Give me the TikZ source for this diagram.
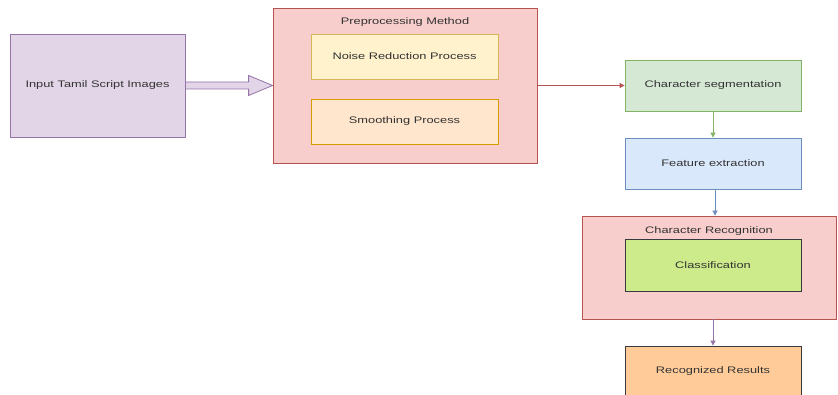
\documentclass[tikz,border=0pt]{standalone}
\usepackage{fontspec}
\setmainfont{Liberation Sans}[FakeStretch=1.35]
\usepackage{xcolor}
\usetikzlibrary{arrows.meta,calc}

\definecolor{txtgray}{HTML}{333333}
\definecolor{purplefill}{HTML}{E1D5E7}
\definecolor{purpleline}{HTML}{9673A6}
\definecolor{redfill}{HTML}{F8CECC}
\definecolor{redline}{HTML}{B85450}
\definecolor{yellowfill}{HTML}{FFF2CC}
\definecolor{yellowline}{HTML}{D6B656}
\definecolor{orangefill}{HTML}{FFE6CC}
\definecolor{orangeline}{HTML}{D79B00}
\definecolor{greenfill}{HTML}{D5E8D4}
\definecolor{greenline}{HTML}{82B366}
\definecolor{bluefill}{HTML}{DAE8FC}
\definecolor{blueline}{HTML}{6C8EBF}
\definecolor{limefill}{HTML}{CDEB8B}
\definecolor{peachfill}{HTML}{FFCC99}
\definecolor{darkline}{HTML}{36393D}

\begin{document}
\begin{tikzpicture}[
    x=1pt, y=-1pt,
    box/.style={draw, line width=0.8pt, inner sep=0pt, align=center, text=txtgray,
      font=\fontsize{9.5}{11}\selectfont, minimum width=176pt, minimum height=51pt},
    title/.style={text=txtgray, inner sep=0pt, font=\fontsize{9.5}{11}\selectfont},
    arrow/.style={-{Triangle[length=5pt, width=5pt]}, line width=0.8pt},
    flexarrow/.style={draw=purpleline, fill=purplefill, line width=0.8pt, line join=miter}
  ]
    \useasboundingbox[fill=white] (0,0) rectangle (838,395);

    \node[box, fill=purplefill, draw=purpleline, minimum width=175pt, minimum height=103pt] (inp) at (97.5,85.5) {Input Tamil Script Images};

    \node[box, fill=redfill, draw=redline, minimum width=264pt, minimum height=155pt] (pre) at (405,85.5) {};
    \node[title] (pretitle) at (405,22) {Preprocessing Method};
    \node[box, fill=yellowfill, draw=yellowline, minimum width=187pt, minimum height=45pt] (noise) at (404.5,56.5) {Noise Reduction Process};
    \node[box, fill=orangefill, draw=orangeline, minimum width=187pt, minimum height=45pt] (smooth) at (404.5,121.5) {Smoothing Process};

    \node[box, fill=greenfill, draw=greenline] (seg) at (713,85.5) {Character segmentation};
    \node[box, fill=bluefill, draw=blueline] (feat) at (713,163.5) {Feature extraction};

    \node[box, fill=redfill, draw=redline, minimum width=254pt, minimum height=103pt] (rec) at (709,267.5) {};
    \node[title] (rectitle) at (709,231) {Character Recognition};
    \node[box, fill=limefill, draw=darkline, minimum height=52pt] (cls) at (713,265) {Classification};

    \node[box, fill=peachfill, draw=darkline] (res) at (713,371.5) {Recognized Results};

    % wide arrow into the preprocessing block
    \draw[flexarrow] ([yshift=3.5pt]inp.east) -- ([xshift=-24pt, yshift=3.5pt]pre.west)
      -- ([xshift=-24pt, yshift=10pt]pre.west) -- (pre.west)
      -- ([xshift=-24pt, yshift=-10pt]pre.west) -- ([xshift=-24pt, yshift=-3.5pt]pre.west)
      -- ([yshift=-3.5pt]inp.east) -- cycle;

    \draw[arrow, redline] (pre.east) -- (seg.west);
    \draw[arrow, greenline] (seg.south) -- (feat.north);
    \draw[arrow, blueline] ([xshift=2pt]feat.south) -- ([xshift=2pt]feat.south |- rec.north);
    \draw[arrow, purpleline] (res.north |- rec.south) -- (res.north);
  \end{tikzpicture}
\end{document}
